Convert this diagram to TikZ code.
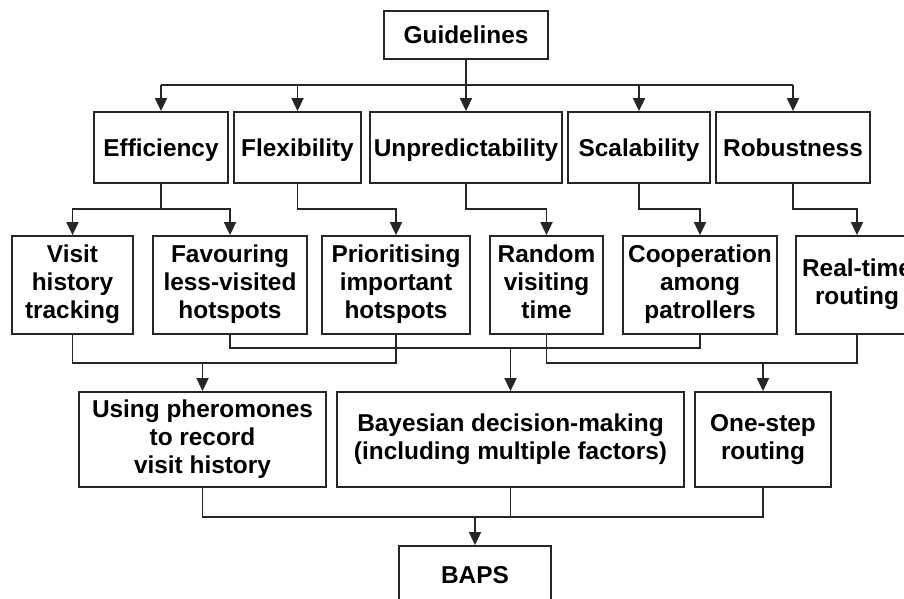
\documentclass[tikz,border=0pt]{standalone}
\usepackage{fontspec}
\setmainfont{Liberation Sans}
\usetikzlibrary{arrows.meta}

\tikzset{
  box/.style={draw=black!85, line width=0.9pt, align=center, inner sep=0pt,
    font=\bfseries\fontsize{12.2}{14}\selectfont,
    execute at begin node={\rule{0pt}{11.8pt}},
    execute at end node={\rule[-3pt]{0pt}{3pt}}},
  link/.style={draw=black!85, line width=0.9pt},
  arr/.style={link, -{Triangle[width=6pt,length=6.5pt]}}
}

\begin{document}
\begin{tikzpicture}[x=0.5pt, y=-0.5pt]
        \useasboundingbox (0,0) rectangle (904,599);

        % Radice
        \node[box, minimum width=82pt, minimum height=24pt] (guide) at (466,35) {Guidelines};

        % Principi
        \node[box, minimum width=67pt, minimum height=35.5pt] (eff)  at (161,147.5) {Efficiency};
        \node[box, minimum width=63.5pt, minimum height=35.5pt] (flex) at (297.5,147.5) {Flexibility};
        \node[box, minimum width=96pt, minimum height=35.5pt] (unp)  at (466,147.5) {Unpredictability};
        \node[box, minimum width=71pt, minimum height=35.5pt] (scal) at (639,147.5) {Scalability};
        \node[box, minimum width=77pt, minimum height=35.5pt] (rob)  at (793,147.5) {Robustness};

        % Requisiti
        \node[box, minimum width=60.5pt, minimum height=49pt] (visit) at (72.5,285) {Visit\\history\\tracking};
        \node[box, minimum width=77pt, minimum height=49pt] (fav)   at (230,285) {Favouring\\less-visited\\hotspots};
        \node[box, minimum width=74pt, minimum height=49pt] (prio)  at (396,285) {Prioritising\\important\\hotspots};
        \node[box, minimum width=56.5pt, minimum height=49pt] (rand)  at (546.5,285) {Random\\visiting\\time};
        \node[box, minimum width=77pt, minimum height=49pt] (coop)  at (700,285) {Cooperation\\among\\patrollers};
        \node[box, minimum width=61pt, minimum height=49pt] (real)  at (857,285) {Real-time\\routing};

        % Meccanismi
        \node[box, minimum width=123.5pt, minimum height=47.5pt] (pher)    at (202.5,439.5) {Using pheromones\\to record\\visit history};
        \node[box, minimum width=173.5pt, minimum height=47.5pt] (bayes)   at (510.5,439.5) {Bayesian decision-making\\(including multiple factors)};
        \node[box, minimum width=68pt, minimum height=47.5pt] (onestep) at (763,439.5) {One-step\\routing};

        % Risultato
        \node[box, minimum width=76pt, minimum height=29pt] (baps) at (475,575) {BAPS};

        % Livelli dei bus
        \coordinate (busG) at (0,85);
        \coordinate (busP) at (0,209);
        \coordinate (busA) at (0,363);
        \coordinate (busB) at (0,348);
        \coordinate (busD) at (0,517);

        % Guidelines -> principi
        \draw[link] (busG -| eff) -- (busG -| rob);
        \draw[arr] (guide.south) -- (unp.north);
        \foreach \n in {eff, flex, scal, rob}
            \draw[arr] (busG -| \n) -- (\n.north);

        % Principi -> requisiti
        \draw[arr] (eff.south) |- (busP -| visit) -- (visit.north);
        \draw[arr] (eff.south) |- (busP -| fav) -- (fav.north);
        \draw[arr] (flex.south) |- (busP -| prio) -- (prio.north);
        \draw[arr] (unp.south) |- (busP -| rand) -- (rand.north);
        \draw[arr] (scal.south) |- (busP -| coop) -- (coop.north);
        \draw[arr] (rob.south) |- (busP -| real) -- (real.north);

        % Requisiti -> meccanismi
        \draw[link] (visit.south) |- (busA -| prio) -- (prio.south);
        \draw[arr] (busA -| pher) -- (pher.north);
        \draw[link] (fav.south) |- (busB -| coop) -- (coop.south);
        \draw[arr] (busB -| bayes) -- (bayes.north);
        \draw[link] (rand.south) |- (busA -| real) -- (real.south);
        \draw[arr] (busA -| onestep) -- (onestep.north);

        % Meccanismi -> BAPS
        \draw[link] (pher.south) |- (busD -| onestep) -- (onestep.south);
        \draw[link] (bayes.south) -- (bayes.south |- busD);
        \draw[arr] (busD -| baps) -- (baps.north);

    \end{tikzpicture}
\end{document}
